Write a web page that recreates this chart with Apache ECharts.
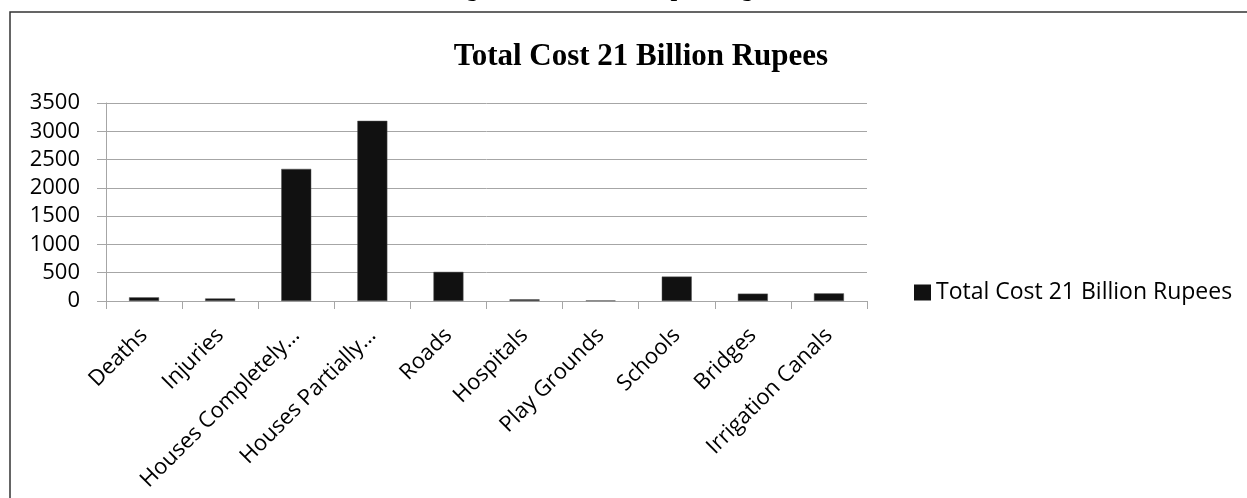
<!DOCTYPE html>
<html>
<head>
<meta charset="utf-8">
<script src="https://cdn.jsdelivr.net/npm/echarts@6/dist/echarts.min.js"></script>
<style>
  html, body { margin: 0; padding: 0; background: #fff; }
  #chart { width: 1247px; height: 498px; }
</style>
</head>
<body>
<div id="chart"></div>
<script>
const categories = ['Deaths', 'Injuries', 'Houses Completely…', 'Houses Partially…', 'Roads',
  'Hospitals', 'Play Grounds', 'Schools', 'Bridges', 'Irrigation Canals'];
const costValues = [65, 45, 2335, 3185, 515, 30, 10, 432, 130, 135];
const seriesName = 'Total Cost 21 Billion Rupees';

const chart = echarts.init(document.getElementById('chart'));
const gridColor = '#a6a6a6';
const labelFont = '"Open Sans", sans-serif';

chart.setOption({
  animation: false,
  title: {
    text: seriesName,
    left: 636,
    textAlign: 'center',
    top: 36,
    textStyle: {
      fontFamily: '"Liberation Serif", "Times New Roman", serif',
      fontWeight: 'bold',
      fontSize: 31,
      color: '#000'
    }
  },
  graphic: [
    {
      type: 'rect',
      shape: { x: 10, y: 12, width: 1260, height: 500 },
      style: { fill: 'none', stroke: '#333', lineWidth: 1.5 },
      silent: true
    },
    {
      type: 'text',
      left: 445,
      top: -22,
      style: {
        text: 'Figure 4.1: Cost of Impending Loss in Swat',
        font: 'bold 24px "Liberation Serif", serif',
        fill: '#000'
      },
      silent: true
    }
  ],
  legend: {
    data: [seriesName],
    left: 909,
    top: 276,
    icon: 'rect',
    itemWidth: 17,
    itemHeight: 16,
    itemGap: 6,
    itemStyle: { borderWidth: 0 },
    textStyle: { fontFamily: labelFont, fontSize: 23, color: '#000' }
  },
  grid: { left: 106, right: 380, top: 103, bottom: 197 },
  xAxis: {
    type: 'category',
    data: categories,
    boundaryGap: true,
    axisLine: { lineStyle: { color: gridColor, width: 1 } },
    axisTick: { show: true, length: 8, lineStyle: { color: gridColor } },
    axisLabel: {
      interval: 0,
      rotate: 45,
      margin: 31,
      fontFamily: labelFont,
      fontSize: 22,
      color: '#000'
    }
  },
  yAxis: {
    type: 'value',
    min: 0,
    max: 3500,
    interval: 500,
    axisLine: { show: true, lineStyle: { color: gridColor, width: 1 } },
    axisTick: { show: true, length: 9, lineStyle: { color: gridColor } },
    splitLine: { lineStyle: { color: gridColor, width: 1 } },
    axisLabel: {
      margin: 26,
      fontFamily: labelFont,
      fontSize: 22,
      color: '#000',
      formatter: function (v) { return String(v); }
    }
  },
  series: [{
    name: seriesName,
    type: 'bar',
    data: costValues,
    barWidth: 30,
    itemStyle: { color: '#111', borderColor: '#555', borderWidth: 0.5 }
  }]
});

window.addEventListener('resize', function () {
  chart.resize();
});
</script>
</body>
</html>
